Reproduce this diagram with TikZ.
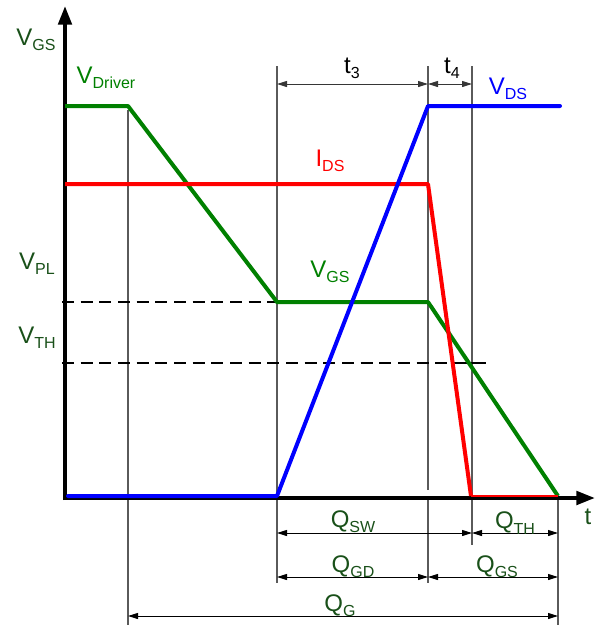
\documentclass[tikz,border=0pt]{standalone}
\usepackage{fontspec}
\setmainfont{Liberation Sans}
\usetikzlibrary{arrows.meta}
\definecolor{drvgreen}{RGB}{0,128,0}
\definecolor{lblgreen}{RGB}{25,80,25}
\definecolor{guidegray}{RGB}{90,90,90}
\newcommand{\sig}[2]{{\fontsize{18}{20}\selectfont #1}\raisebox{-4pt}{\fontsize{12}{13}\selectfont #2}}

\begin{document}
\begin{tikzpicture}[x=0.75pt,y=-0.75pt,
  curve/.style={line width=3pt,line join=round},
  guide/.style={guidegray,line width=0.8pt},
  level/.style={line width=0.9pt,dash pattern=on 9pt off 5pt},
  dim/.style={line width=0.75pt,{Triangle[length=7.5pt,width=4.5pt]}-{Triangle[length=7.5pt,width=4.5pt]}},
  lbl/.style={inner sep=0pt}]
\useasboundingbox (0,0) rectangle (595,626);
% time marks
\coordinate (a) at (128,106);
\coordinate (b) at (277,302);
\coordinate (c) at (428,302);
\coordinate (d) at (471,496);
\coordinate (e) at (558,496);
% guide lines
\draw[guide] (128,110)--(128,625);
\draw[guide] (277,66)--(277,583);
\draw[guide] (428,66)--(428,490);
\draw[guide] (428,498)--(428,583);
\draw[guide] (472,66)--(472,545);
\draw[guide] (558,498)--(558,625);
% levels
\draw[level] (62,302)--(277,302);
\draw[level] (62,363)--(452,363);
\draw[line width=1.3pt] (452,363)--(486,363);
% axes
\draw[line width=3pt,-{Triangle[length=14pt,width=10pt]}] (65,500)--(65,6);
\draw[line width=3pt,-{Triangle[length=14pt,width=10pt]}] (63,498)--(595,498);
% curves
\draw[curve,drvgreen] (65,106)--(a)--(b)--(c)--(e);
\draw[red,line width=1pt] (d)--(e);
\draw[curve,red] (65,184)--(428,184)--(d);
\draw[curve,blue,line cap=round] (68,496)--(277,496)--(428,106)--(560,106);
% dimension arrows
\draw[dim,guidegray!60!black] (277,84)--(428,84);
\draw[dim,guidegray!60!black] (428,84)--(472,84);
\draw[dim] (277,533)--(472,533);
\draw[dim] (472,533)--(558,533);
\draw[dim] (277,577)--(428,577);
\draw[dim] (428,577)--(558,577);
\draw[dim] (128,616)--(558,616);
% labels
\node[lbl,lblgreen] (vgsaxis) at (36,40) {\sig{V}{GS}};
\node[lbl,drvgreen] (vdrv) at (106,78) {\sig{V}{Driver}};
\node[lbl,lblgreen] (vpl) at (37,264) {\sig{V}{PL}};
\node[lbl,lblgreen] (vth) at (37,338) {\sig{V}{TH}};
\node[lbl,drvgreen] (vgs) at (330,272) {\sig{V}{GS}};
\node[lbl,red] (ids) at (330,161) {\sig{I}{DS}};
\node[lbl,blue] (vds) at (508,89) {\sig{V}{DS}};
\node[lbl] (t3) at (352,68) {\sig{t}{3}};
\node[lbl] (t4) at (452,68) {\sig{t}{4}};
\node[lbl,lblgreen] (taxis) at (588,517) {\fontsize{18}{20}\selectfont t};
\node[lbl,lblgreen] (qsw) at (353,522) {\sig{Q}{SW}};
\node[lbl,lblgreen] (qth) at (515,523) {\sig{Q}{TH}};
\node[lbl,lblgreen] (qgd) at (353,567) {\sig{Q}{GD}};
\node[lbl,lblgreen] (qgs) at (497,567) {\sig{Q}{GS}};
\node[lbl,lblgreen] (qg) at (340,606) {\sig{Q}{G}};
\end{tikzpicture}
\end{document}
